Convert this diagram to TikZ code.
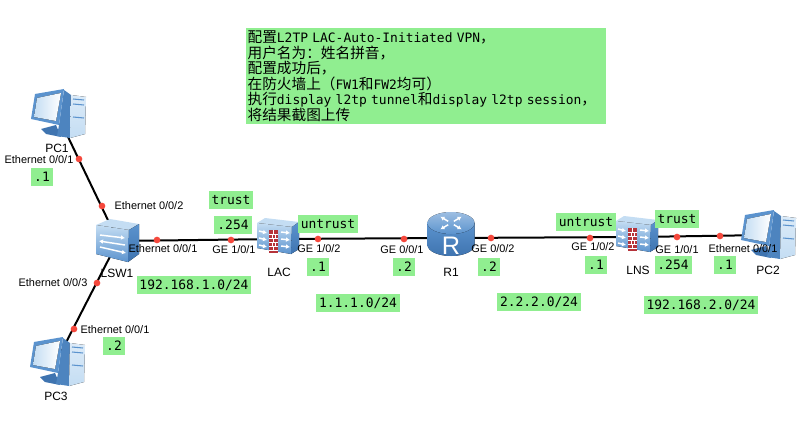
\documentclass[tikz,border=0pt]{standalone}
\usepackage{fontspec}
\setsansfont{Liberation Sans}
\setmonofont{DejaVu Sans Mono}
\newfontfamily\cjkfont{Noto Sans CJK SC}
\usepackage{xcolor}
\usetikzlibrary{arrows.meta, calc}
\definecolor{mygreen}{HTML}{90EE90}
\definecolor{myred}{HTML}{F5483C}
\definecolor{myblue}{HTML}{5B93CE}
\definecolor{mydark}{HTML}{3F74B0}
\definecolor{mylight}{HTML}{C4DDF3}
\definecolor{mybrick}{HTML}{B5333A}
\newcommand{\zh}[1]{{\cjkfont\fontsize{11pt}{11.6pt}\selectfont #1}}

\tikzset{
    iconarrow/.style={-{Latex[length=3pt,width=3.6pt]}, white, line width=1.1pt},
    % Computer with monitor and tower
    pcicon/.pic={
        \fill[mydark] (-16,15) -- (-1,11) -- (4,23) -- (-11,20) -- cycle;
        \fill[mydark!50!myblue] (7,-24) -- (14,-19) -- (13,24) -- (0,22) -- (2,11) -- cycle;
        \fill[top color=mylight!60, bottom color=mylight] (14,-19) -- (29,-17) -- (28,20) -- (13,24) -- cycle;
        \draw[myblue, line width=0.8pt] (16,-15) -- (27,-14) (16,-10) -- (27,-9) (16,3) -- (27,4);
        \fill[myblue] (-22,-20) -- (7,-25) -- (2,11) -- (-26,5) -- cycle;
        \fill[left color=mylight, right color=white] (-20,-16) -- (4,-21) -- (-1,7) -- (-23,3) -- cycle;
    },
    % Switch with crossing arrows
    switchicon/.pic={
        \fill[mylight] (-22,-16) -- (-8,-22) -- (21,-17) -- (11,-11) -- cycle;
        \fill[top color=mylight, bottom color=myblue] (-22,-16) -- (11,-11) -- (10,21) -- (-22,13) -- cycle;
        \fill[top color=myblue, bottom color=mydark] (11,-11) -- (21,-17) -- (21,13) -- (10,21) -- cycle;
        \draw[iconarrow] (-18,-6) -- (7,-3);
        \draw[iconarrow] (7,4) -- (-19,0);
        \draw[iconarrow] (-18,6) -- (8,12);
    },
    % Firewall with brick wall
    wallicon/.pic={
        \fill[mylight] (-21,-16) -- (-13,-21) -- (21,-17) -- (14,-12) -- cycle;
        \fill[top color=mylight, bottom color=myblue] (-21,-16) -- (14,-12) -- (13,15) -- (-21,9) -- cycle;
        \fill[top color=myblue, bottom color=mydark] (14,-12) -- (21,-17) -- (21,10) -- (13,15) -- cycle;
        \fill[mybrick] (-9,-9) rectangle (0,14);
        \foreach \y in {-5,-1,3,7,11}
            \draw[white, line width=0.5pt] (-9,\y) -- (0,\y);
        \draw[white, line width=0.5pt] (-4.5,-9) -- (-4.5,-5) (-6,-5) -- (-6,-1) (-3,-5) -- (-3,-1) (-4.5,-1) -- (-4.5,3) (-6,3) -- (-6,7) (-3,3) -- (-3,7) (-4.5,7) -- (-4.5,11);
        \foreach \y in {-7,0,7} {
            \draw[iconarrow] (-19,\y-1) -- (-11,\y+1);
            \draw[iconarrow] (3,\y) -- (12,\y+1);
        }
    },
    % Router drum with four arrows
    routericon/.pic={
        \fill[top color=myblue, bottom color=mydark] (-23.5,-15) -- (-23.5,7) arc[start angle=180, end angle=0, x radius=23.5, y radius=11] -- (23.5,-15) -- cycle;
        \fill[top color=myblue!60, bottom color=myblue] (0,-15) ellipse[x radius=23.5, y radius=11];
        \foreach \a in {45,135,225,315}
            \draw[iconarrow] ($(0,-15)+(\a:4 and 2.4)$) -- ($(0,-15)+(\a:15 and 9)$);
        \node[font=\sffamily\fontsize{19pt}{19pt}\selectfont, text=white, inner sep=0pt] (-letter) at (0,8) {R};
    }
}

\begin{document}
\begin{tikzpicture}[
    x=0.75pt, y=-0.75pt,
    % Nodes
    device/.style={circle, inner sep=0pt, minimum size=18pt},
    portdot/.style={circle, fill=myred, inner sep=0pt, minimum size=5pt},
    portname/.style={font=\sffamily\fontsize{8.2pt}{9pt}\selectfont, inner sep=0pt},
    devname/.style={font=\sffamily\fontsize{9pt}{10pt}\selectfont, inner sep=0pt},
    greenlabel/.style={fill=mygreen, font=\ttfamily\fontsize{9.7pt}{11pt}\selectfont, inner xsep=2.2pt, inner ysep=0pt, minimum height=13.5pt},
    % Links
    link/.style={line width=1.5pt, color=black}
]
\useasboundingbox (0,0) rectangle (802,431);

% -- Devices --
\node[device] (pc1) at (57,114) {};
\node[device] (pc3) at (56,362) {};
\node[device] (lsw1) at (118,241) {};
\node[device] (lac) at (278,239) {};
\node[device] (r1) at (451,238) {};
\node[device] (lns) at (637,237) {};
\node[device] (pc2) at (767,235) {};

% -- Links --
\draw[link] (pc1) -- (lsw1);
\draw[link] (pc3) -- (lsw1);
\draw[link] (lsw1) -- (lac);
\draw[link] (lac) -- (r1);
\draw[link] (r1) -- (lns);
\draw[link] (lns) -- (pc2);

% -- Icons --
\pic at (pc1) {pcicon};
\pic at (pc3) {pcicon};
\pic at (pc2) {pcicon};
\pic at (lsw1) {switchicon};
\pic at (lac) {wallicon};
\pic at (lns) {wallicon};
\pic (rone) at (r1) {routericon};

% -- Port dots --
\foreach \name/\pos in {d1/{79,159}, d2/{102,206}, d3/{97,283}, d4/{74,329}, d5/{157,240}, d6/{231,240}, d7/{318,239}, d8/{404,239}, d9/{491,238}, d10/{590,238}, d11/{677,237}, d12/{720,236}}
    \node[portdot] (\name) at (\pos) {};

% -- Port names --
\node[portname] (e1) at (39,160) {Ethernet 0/0/1};
\node[portname] (e2) at (149,206) {Ethernet 0/0/2};
\node[portname] (e3) at (53,283) {Ethernet 0/0/3};
\node[portname] (e4) at (115,330) {Ethernet 0/0/1};
\node[portname] (e5) at (163,249) {Ethernet 0/0/1};
\node[portname] (g1) at (234,250) {GE 1/0/1};
\node[portname] (g2) at (319,249) {GE 1/0/2};
\node[portname] (g3) at (402,250) {GE 0/0/1};
\node[portname] (g4) at (493,249) {GE 0/0/2};
\node[portname] (g5) at (593,247) {GE 1/0/2};
\node[portname] (g6) at (677,250) {GE 1/0/1};
\node[portname] (e6) at (743,249) {Ethernet 0/0/1};

% -- Device names --
\node[devname] (pc1name) at (57,148) {PC1};
\node[devname] (pc3name) at (56,396) {PC3};
\node[devname] (lsw1name) at (117,273) {LSW1};
\node[devname] (lacname) at (279,272) {LAC};
\node[devname] (r1name) at (451,272) {R1};
\node[devname] (lnsname) at (638,270) {LNS};
\node[devname] (pc2name) at (768,270) {PC2};

% -- Zones, addresses and subnets --
\node[greenlabel] (zone1) at (231,200) {trust};
\node[greenlabel] (zone2) at (328,224) {untrust};
\node[greenlabel] (zone3) at (586,222) {untrust};
\node[greenlabel] (zone4) at (677,219) {trust};
\node[greenlabel] (ip1) at (42,177) {.1};
\node[greenlabel] (ip2) at (114,346) {.2};
\node[greenlabel] (ip3) at (233,225) {.254};
\node[greenlabel] (ip4) at (318,267) {.1};
\node[greenlabel] (ip5) at (404,267) {.2};
\node[greenlabel] (ip6) at (489,267) {.2};
\node[greenlabel] (ip7) at (596,265) {.1};
\node[greenlabel] (ip8) at (673,265) {.254};
\node[greenlabel] (ip9) at (725,265) {.1};
\node[greenlabel] (net1) at (194,285) {192.168.1.0/24};
\node[greenlabel] (net2) at (358,303) {1.1.1.0/24};
\node[greenlabel] (net3) at (539,302) {2.2.2.0/24};
\node[greenlabel] (net4) at (701,305) {192.168.2.0/24};

% -- Task note --
\node[fill=mygreen, anchor=north west, inner xsep=1pt, inner ysep=0pt, minimum height=72pt, text width=267.5pt, align=left,
      font=\ttfamily\fontsize{9.7pt}{11.6pt}\selectfont] (task) at (246,28) {%
    \zh{配置}L2TP LAC-Auto-Initiated VPN\zh{，}\\
    \zh{用户名为：姓名拼音，}\\
    \zh{配置成功后，}\\
    \zh{在防火墙上（}FW1\zh{和}FW2\zh{均可）}\\
    \zh{执行}display l2tp tunnel\zh{和}display l2tp session\zh{，}\\
    \zh{将结果截图上传}};

\end{tikzpicture}
\end{document}
